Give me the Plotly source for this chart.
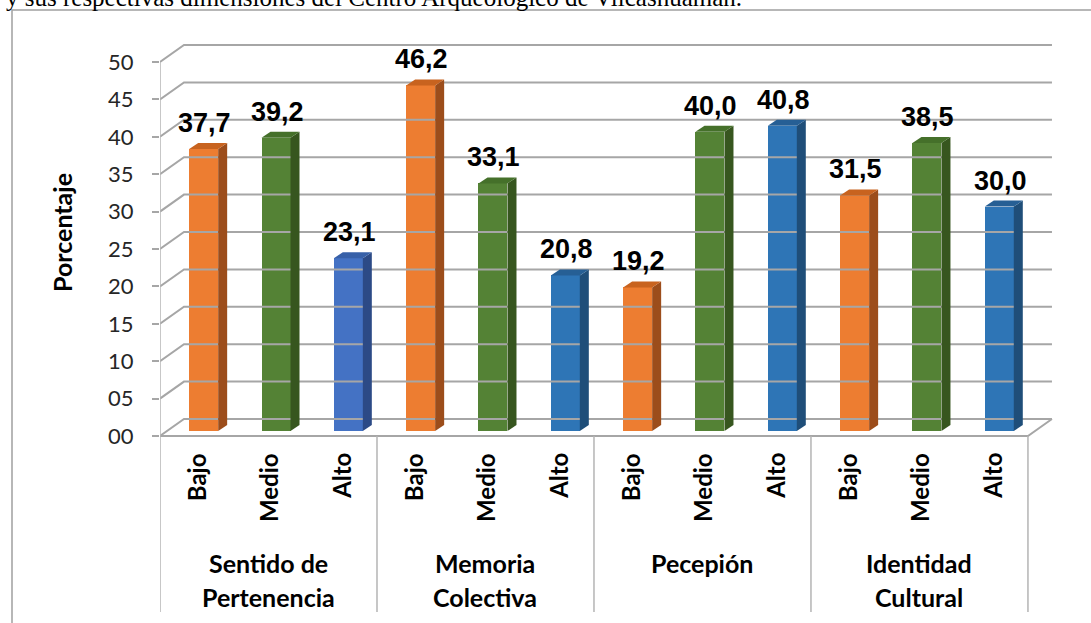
import plotly.graph_objects as go

# ---------------- data ----------------
dimensions_line1 = ["Sentido de", "Memoria", "Pecepión", "Identidad"]
dimensions_line2 = ["Pertenencia", "Colectiva", "", "Cultural"]
levels = ["Bajo", "Medio", "Alto"]
sentido = [37.7, 39.2, 23.1]
memoria = [46.2, 33.1, 20.8]
percepcion = [19.2, 40.0, 40.8]
identidad = [31.5, 38.5, 30.0]
y_ticks = [0, 5, 10, 15, 20, 25, 30, 35, 40, 45, 50]
y_ticktext = ["00", "05", "10", "15", "20", "25", "30", "35", "40", "45", "50"]
top_text = "y sus respectivas dimensiones del Centro Arqueológico de Vilcashuamán."

groups = [sentido, memoria, percepcion, identidad]
values = [v for g in groups for v in g]
cat_levels = levels * len(groups)

# colours (front, side, top)
COL = {
    "Bajo": ("#ED7D31", "#9C4D1B", "#C8631F"),
    "Medio": ("#548235", "#37561F", "#45702A"),
    "Alto": ("#2E75B6", "#1F4E79", "#265F95"),
}
COL_ALTO_FIRST = ("#4472C4", "#2C4A86", "#3760A8")

# ---------------- geometry (pixels) ----------------
W, H = 1091, 623
L, R_PX, T, B_PX = 160, 1060, 30, 623
XPX = 72.33            # pixels per category
Y0PX = 436             # pixel row of value 0 on front plane
YPX = 7.48             # pixels per unit


def xd(px):
    return -0.5 + (px - L) / XPX


def yd(py):
    return (Y0PX - py) / YPX


def pxp(px):
    return (px - L) / (R_PX - L)


def pyp(py):
    return (B_PX - py) / (B_PX - T)


DXW = 24 / XPX     # wall depth x
DYW = 17 / YPX     # wall depth y
BOX = 7.5 / XPX    # bar offset x
BOY = 5 / YPX      # bar offset y
BW = 29 / XPX      # bar width
SDX = 9 / XPX      # bar depth x
SDY = 6 / YPX      # bar depth y
NCAT = len(values)
XL, XR = -0.5, NCAT - 0.5

GRID = "#A6A6A6"

fig = go.Figure()

# back wall grid lines + side wall diagonals
gx, gy = [], []
for v in y_ticks:
    gx += [XL, XL + DXW, XR + DXW, None]
    gy += [v, v + DYW, v + DYW, None]
# floor front and right edges
gx += [XL, XR, XR + DXW, None]
gy += [0, 0, DYW, None]
fig.add_trace(go.Scatter(x=gx, y=gy, mode="lines", line=dict(color=GRID, width=2),
                         hoverinfo="skip", showlegend=False))

# front axis line and group separators
sx, sy = [], []
sx += [XL, XL, None]
sy += [50, yd(612), None]
for k in range(1, len(groups) + 1):
    xs = XL + 3 * k
    sx += [xs, xs, None]
    sy += [0, yd(612), None]
fig.add_trace(go.Scatter(x=sx, y=sy, mode="lines", line=dict(color="#B4B4B4", width=1.5),
                         hoverinfo="skip", showlegend=False))

# bars (front faces)
front_colors, bar_x = [], []
for i, (v, lev) in enumerate(zip(values, cat_levels)):
    cols = COL_ALTO_FIRST if (i == 2) else COL[lev]
    front_colors.append(cols[0])
    bar_x.append(i + BOX)

fig.add_trace(go.Bar(x=bar_x, y=values, base=BOY, width=BW,
                     marker=dict(color=front_colors, line=dict(width=0)),
                     hoverinfo="skip", showlegend=False))

# side and top faces
for i, (v, lev) in enumerate(zip(values, cat_levels)):
    cols = COL_ALTO_FIRST if (i == 2) else COL[lev]
    xl = i + BOX - BW / 2
    xr = i + BOX + BW / 2
    yb = BOY
    yt = BOY + v
    fig.add_trace(go.Scatter(x=[xr, xr + SDX, xr + SDX, xr, xr],
                             y=[yb, yb + SDY, yt + SDY, yt, yb],
                             mode="lines", fill="toself", fillcolor=cols[1],
                             line=dict(width=0, color=cols[1]), hoverinfo="skip", showlegend=False))
    fig.add_trace(go.Scatter(x=[xl, xl + SDX, xr + SDX, xr, xl],
                             y=[yt, yt + SDY, yt + SDY, yt, yt],
                             mode="lines", fill="toself", fillcolor=cols[2],
                             line=dict(width=0, color=cols[2]), hoverinfo="skip", showlegend=False))

annotations = []
# data labels
for i, v in enumerate(values):
    annotations.append(dict(x=i + BOX + 1 / XPX, y=BOY + v, xref="x", yref="y",
                            text=f"{v:.1f}".replace(".", ","), showarrow=False,
                            yanchor="middle", xanchor="center", yshift=26,
                            font=dict(family="Liberation Sans, Arial", size=27, color="#000000",
                                      weight="bold")))
# category labels (rotated)
for i, lev in enumerate(cat_levels):
    annotations.append(dict(x=i, y=yd(451), xref="x", yref="y", text=lev, textangle=-90,
                            showarrow=False, xanchor="center", yanchor="top",
                            font=dict(family="Lato", size=24, color="#000000", weight="bold")))
# group labels
for k, (l1, l2) in enumerate(zip(dimensions_line1, dimensions_line2)):
    annotations.append(dict(x=3 * k + 1, y=yd(563), xref="x", yref="y", text=l1,
                            showarrow=False, xanchor="center", yanchor="middle",
                            font=dict(family="Lato", size=25, color="#000000", weight="bold")))
    if l2:
        annotations.append(dict(x=3 * k + 1, y=yd(597), xref="x", yref="y", text=l2,
                                showarrow=False, xanchor="center", yanchor="middle",
                                font=dict(family="Lato", size=25, color="#000000", weight="bold")))
# y-axis title
annotations.append(dict(x=pxp(62), y=pyp(233), xref="paper", yref="paper", text="Porcentaje",
                        textangle=-90, showarrow=False, xanchor="center", yanchor="middle",
                        font=dict(family="Lato", size=25, color="#000000", weight="bold")))
# caption at top (clipped by the page edge, as in the source image)
annotations.append(dict(x=pxp(4), y=pyp(13), xref="paper", yref="paper", text=top_text,
                        showarrow=False, xanchor="left", yanchor="bottom",
                        font=dict(family="Liberation Serif, Times New Roman", size=25, color="#000000")))

shapes = [dict(type="rect", xref="paper", yref="paper", x0=pxp(12), x1=pxp(1120),
               y0=pyp(660), y1=pyp(10), line=dict(color="#A0A0A0", width=1.5),
               fillcolor="rgba(0,0,0,0)", layer="below")]

fig.update_layout(
    width=W, height=H,
    margin=dict(l=L, r=W - R_PX, t=T, b=H - B_PX, pad=0),
    paper_bgcolor="white", plot_bgcolor="white",
    xaxis=dict(range=[xd(L), xd(R_PX)], showgrid=False, zeroline=False, showline=False,
               showticklabels=False, ticks="", fixedrange=True),
    yaxis=dict(range=[yd(B_PX), yd(T)], tickmode="array", tickvals=y_ticks, ticktext=y_ticktext,
               ticks="outside", ticklen=7, tickcolor="#A6A6A6", tickwidth=1.5,
               ticklabelstandoff=14,
               showgrid=False, zeroline=False, showline=False,
               tickfont=dict(family="Lato", size=22, color="#262626"), fixedrange=True),
    annotations=annotations,
    shapes=shapes,
    bargap=0,
)

fig.write_html("out.html", config={"displayModeBar": False},
               post_script="document.body.style.margin='0';")
